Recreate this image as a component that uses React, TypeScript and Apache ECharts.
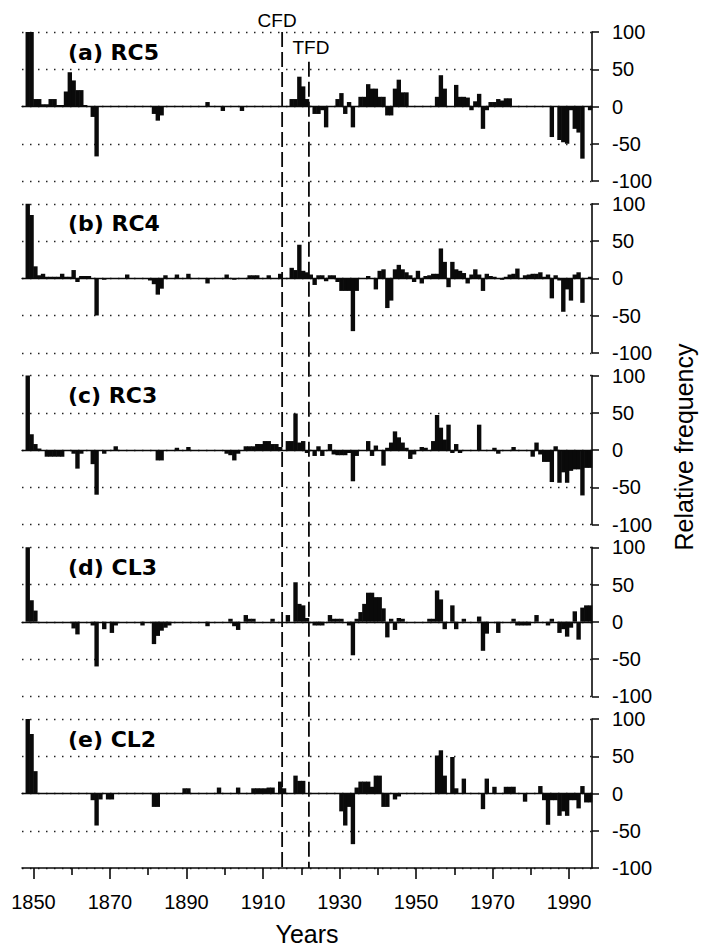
import React, { useEffect, useRef } from "react";
import * as echarts from "echarts";

// ---- data -----------------------------------------------------------
const START_YEAR = 1848;
const AXIS_MIN = 1847;
const AXIS_MAX = 1996;
const CFD_YEAR = 1915;
const TFD_YEAR = 1922;
const MAJOR_TICKS = [1850, 1870, 1890, 1910, 1930, 1950, 1970, 1990];
const MINOR_TICKS = [1860, 1880, 1900, 1920, 1940, 1960, 1980];
const PANEL_LABELS = ["(a) RC5", "(b) RC4", "(c) RC3", "(d) CL3", "(e) CL2"];

// yearly relative frequency, 1848 ... 1995
const RC5 = [
  100, 100,
  10, 10, 3, 3, 10, 10, 2, 2, 20, 46,
  35, 22, 22, 2, 0, -14, -67, 0, 0, 0,
  0, 0, 0, 0, 0, 0, 0, 0, 0, 0,
  0, -10, -19, -12, 0, 0, 0, 0, 0, 0,
  0, 0, 0, 0, 0, 6, 0, 0, 0, -6,
  0, 0, 0, 0, -6, 0, 0, 0, 0, 0,
  0, 0, 0, 0, 0, 0, 0, 10, 10, 40,
  27, 10, 0, -10, -10, -5, -28, 0, 0, 10,
  18, -10, 6, -28, 0, 13, 13, 30, 24, 24,
  13, 13, -12, -12, 24, 36, 19, 19, 0, 0,
  0, 0, 0, 0, 0, 13, 42, 24, 0, 0,
  29, 13, 13, 12, -5, 7, 17, -30, -5, 6,
  6, 10, 8, 11, 11, 0, 0, 0, 0, 0,
  0, 0, 0, 0, 0, -41, 0, -45, -48, -50,
  -5, -30, -35, -70, 0, -5,
];

const RC4 = [
  100, 85,
  16, 4, 6, 2, 2, 2, 2, 6, 2, 2,
  11, -5, 3, 3, 3, 0, -50, 0, -2, 0,
  0, 0, 0, 0, 5, 0, 0, 0, 0, 0,
  -3, -8, -22, -14, 4, 0, 0, 5, 0, 0,
  6, 0, 0, 0, 0, -7, 0, 0, 0, 0,
  5, 0, -2, 0, 0, 0, 4, 4, 4, 0,
  0, 4, 0, 0, 6, 0, 0, 14, 11, 45,
  10, 8, 5, -9, 4, 4, -4, 4, 4, -5,
  -17, -17, -17, -71, -17, 0, 0, 3, 0, -15,
  10, 12, -40, -30, 12, 18, 12, 8, 4, -5,
  10, -7, 3, 4, 6, 6, 40, 22, -12, 22,
  12, 10, 7, -7, 5, 12, 5, -17, 6, 3,
  2, 0, -2, 2, 5, 6, 13, 0, 4, 5,
  6, 6, 8, 2, 5, -27, 4, -3, -45, -15,
  -30, 5, 8, -33, 0, 2,
];

const RC3 = [
  100, 21,
  8, 2, 0, -9, -9, -9, -9, -9, 0, 0,
  -5, -25, -5, 0, 0, -19, -60, 0, -5, 0,
  0, 5, 0, 0, 0, 0, 0, 0, 0, 0,
  0, 0, -14, -14, 0, 0, 0, 3, 0, 0,
  4, 0, 0, 0, 0, 0, 0, 0, 0, 0,
  -5, -7, -14, -5, 0, 5, 5, 5, 8, 8,
  12, 12, 8, 8, 4, 0, 12, 12, 49, 10,
  12, -4, 0, -8, 5, -8, 0, 8, -6, -7,
  -7, -7, -4, -42, -8, 0, 0, 12, -8, 6,
  0, -21, 3, 10, 25, 17, 10, 3, -12, -6,
  0, 4, 3, 0, 12, 47, 30, 14, 34, -4,
  8, -4, 0, 0, 0, 0, 34, 0, 0, 0,
  3, -5, 0, 0, 0, 4, 0, 0, 0, 0,
  -9, 10, -6, -16, -16, -43, 5, -44, -30, -44,
  -28, -26, -26, -61, -24, -24,
];

const CL3 = [
  100, 29,
  15, 0, 0, 0, 0, 0, 0, 0, 0, 0,
  -9, -17, 0, 0, 0, -5, -60, 0, -10, 0,
  -15, -5, 0, 0, 0, 0, 0, 0, -5, 0,
  0, -30, -19, -12, -8, -5, 0, 0, 0, 0,
  0, 0, 0, 0, 0, -6, 0, 0, 0, 0,
  0, 4, -6, -11, 0, 9, 4, 4, 0, 0,
  0, 0, 4, 0, 0, 0, 9, 0, 53, 24,
  22, 5, 0, -5, -5, -5, 0, 9, 4, 4,
  4, 0, -5, -45, 4, 13, 24, 39, 39, 33,
  33, 18, -21, 4, -11, 5, 4, 0, 0, 0,
  0, 0, 0, 4, 4, 42, 30, -10, 0, 22,
  -10, 0, 4, 0, 0, 0, 7, -39, -16, 0,
  0, -15, 0, 0, 0, 4, -5, -5, -5, -5,
  0, 9, 0, 0, -5, 4, 0, -15, -10, -20,
  -8, 14, -24, 19, 22, 22,
];

const CL2 = [
  100, 80,
  30, 0, 0, 0, 0, 0, 0, 0, 0, 0,
  0, 0, 0, 0, 0, -9, -43, -8, 0, -8,
  -8, 0, 0, 0, 0, 0, 0, 0, 0, 0,
  0, -18, -18, 0, 0, 0, 0, 0, 0, 7,
  7, 0, 0, 0, 0, 0, 0, 0, 8, 0,
  0, 0, 0, 8, 0, 0, 0, 7, 7, 7,
  7, 8, 8, 0, 16, 7, 0, 0, 24, 17,
  17, 0, 0, 0, 0, 0, 0, 0, 0, 0,
  -24, -43, -18, -68, 8, 16, 16, 16, 9, 24,
  24, -18, -18, 0, -8, -4, 0, 0, 0, 0,
  0, 0, 0, 0, 0, 51, 58, 24, 0, 49,
  7, 0, 20, 0, 0, 0, 0, -21, 20, 0,
  9, 0, 0, 9, 9, 9, 0, 0, -11, 0,
  0, 0, 10, -9, -42, -9, -9, -30, -24, -30,
  -9, -9, -20, 10, -12, -12,
];

const PANEL_DATA = [RC5, RC4, RC3, CL3, CL2];

// ---- layout ---------------------------------------------------------
const W = 702;
const H = 948;
const GRID_LEFT = 22;
const GRID_RIGHT = 110;
const GRID_TOP = 32;
const GRID_H = 149;
const GRID_STEP = 171.75;
const FONT = '"Liberation Sans", Arial, Helvetica, sans-serif';
const INK = "#0a0a0a";

export default function App() {
  const ref = useRef<HTMLDivElement>(null);

  useEffect(() => {
    if (!ref.current) return;
    const chart = echarts.init(ref.current, undefined, { renderer: "svg" });

    const grids = PANEL_DATA.map((_, k) => ({
      left: GRID_LEFT,
      right: GRID_RIGHT,
      top: GRID_TOP + k * GRID_STEP,
      height: GRID_H,
      containLabel: false,
    }));

    const xAxes: any[] = PANEL_DATA.map((_, k) => ({
      gridIndex: k,
      type: "value",
      min: AXIS_MIN,
      max: AXIS_MAX,
      axisLine: { show: true, onZero: true, lineStyle: { color: INK, width: 1.3 } },
      axisTick: { show: false },
      axisLabel: { show: false },
      splitLine: { show: false },
    }));
    xAxes.push({
      gridIndex: 4,
      type: "value",
      position: "bottom",
      min: AXIS_MIN,
      max: AXIS_MAX,
      axisLine: { show: true, onZero: false, lineStyle: { color: INK, width: 1.5 } },
      axisTick: {
        show: true,
        customValues: MAJOR_TICKS,
        length: 11,
        lineStyle: { color: INK, width: 1.6 },
      },
      axisLabel: {
        show: true,
        customValues: MAJOR_TICKS,
        formatter: (v: number) => String(v),
        fontSize: 20,
        fontFamily: FONT,
        color: "#000",
        margin: 24,
      },
      splitLine: { show: false },
      name: "Years",
      nameLocation: "middle",
      nameGap: 53,
      nameTextStyle: { fontSize: 25, fontFamily: FONT, color: "#000" },
    });
    xAxes.push({
      gridIndex: 4,
      type: "value",
      position: "bottom",
      min: AXIS_MIN,
      max: AXIS_MAX,
      axisLine: { show: false, onZero: false },
      axisTick: {
        show: true,
        customValues: MINOR_TICKS,
        length: 7,
        lineStyle: { color: INK, width: 1.6 },
      },
      axisLabel: { show: false },
      splitLine: { show: false },
    });

    const yAxes = PANEL_DATA.map((_, k) => ({
      gridIndex: k,
      type: "value",
      position: "right",
      min: -100,
      max: 100,
      interval: 50,
      axisLine: { show: true, onZero: false, lineStyle: { color: INK, width: 1.6 } },
      axisTick: { show: true, length: 7, lineStyle: { color: INK, width: 1.5 } },
      axisLabel: {
        fontSize: 20,
        fontFamily: FONT,
        color: "#000",
        margin: 20,
      },
      splitLine: {
        show: true,
        lineStyle: { color: "#222", width: 1.3, type: [1.5, 6.5] },
      },
    }));

    const series = PANEL_DATA.map((vals, k) => ({
      type: "bar",
      name: PANEL_LABELS[k],
      xAxisIndex: k,
      yAxisIndex: k,
      barWidth: 4.4,
      itemStyle: { color: INK },
      data: vals.map((v, i) => [START_YEAR + i + 0.5, v]),
    }));

    chart.setOption({
      animation: false,
      backgroundColor: "#ffffff",
      grid: grids,
      xAxis: xAxes,
      yAxis: yAxes,
      series,
    });

    const xC = chart.convertToPixel({ xAxisIndex: 0 }, CFD_YEAR) as number;
    const xT = chart.convertToPixel({ xAxisIndex: 0 }, TFD_YEAR) as number;
    const yTop = chart.convertToPixel({ yAxisIndex: 0 }, 100) as number;
    const yTfdTop = chart.convertToPixel({ yAxisIndex: 0 }, 60) as number;
    const yBottom = chart.convertToPixel({ yAxisIndex: 4 }, -100) as number;

    const txt = (
      text: string,
      x: number,
      y: number,
      font: string,
      align: string,
      rotation = 0
    ) => ({
      type: "text",
      x,
      y,
      rotation,
      silent: true,
      style: {
        text,
        font,
        fill: "#000",
        align,
        verticalAlign: "middle",
        textAlign: align,
        textVerticalAlign: "middle",
      },
    });

    const labels = PANEL_LABELS.map((lab, k) => {
      const y0 = chart.convertToPixel({ yAxisIndex: k }, 100) as number;
      return txt(lab, 68, y0 + 20, 'bold 22px "DejaVu Sans", sans-serif', "left");
    });

    chart.setOption({
      graphic: [
        {
          type: "line",
          silent: true,
          shape: { x1: xC, y1: yTop, x2: xC, y2: yBottom },
          style: { stroke: INK, lineWidth: 1.8, lineDash: [15, 5] },
        },
        {
          type: "line",
          silent: true,
          shape: { x1: xT, y1: yTfdTop, x2: xT, y2: yBottom },
          style: { stroke: INK, lineWidth: 1.8, lineDash: [15, 5] },
        },
        txt("CFD", xC - 5, 20, `19px ${FONT}`, "center"),
        txt("TFD", xT + 2, 47, `19px ${FONT}`, "center"),
        txt("Relative frequency", 684, 447, `25px ${FONT}`, "center", Math.PI / 2),
        ...labels,
      ],
    });

    return () => chart.dispose();
  }, []);

  return (
    <div
      ref={ref}
      style={{ position: "absolute", left: 0, top: 0, width: W, height: H, background: "#fff" }}
    />
  );
}
